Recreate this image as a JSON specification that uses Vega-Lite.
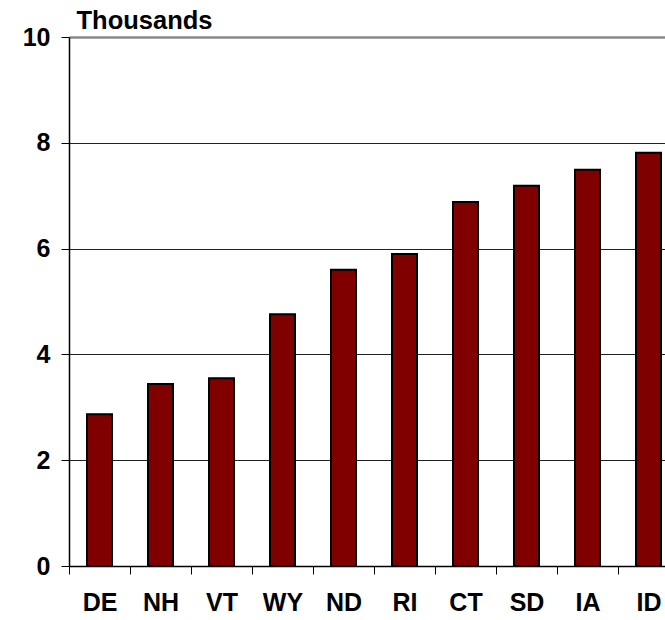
{
  "$schema": "https://vega.github.io/schema/vega-lite/v6.json",
  "autosize": {"type": "none"},
  "padding": {"left": 69, "top": 37, "right": 0, "bottom": 54},
  "width": 596,
  "height": 529,
  "background": "white",
  "config": {
    "view": {"stroke": null},
    "font": "Liberation Sans"
  },
  "data": {
    "values": [
      {"state": "DE", "value": 2.87},
      {"state": "NH", "value": 3.44},
      {"state": "VT", "value": 3.55},
      {"state": "WY", "value": 4.76},
      {"state": "ND", "value": 5.60},
      {"state": "RI", "value": 5.90},
      {"state": "CT", "value": 6.88},
      {"state": "SD", "value": 7.19},
      {"state": "IA", "value": 7.49},
      {"state": "ID", "value": 7.81}
    ]
  },
  "mark": {"type": "bar", "fill": "#800000", "stroke": "black", "strokeWidth": 2, "width": {"band": 0.41}},
  "encoding": {
    "x": {
      "field": "state",
      "type": "nominal",
      "sort": null,
      "scale": {"range": [0, 610], "paddingInner": 0, "paddingOuter": 0},
      "axis": {
        "title": null,
        "labelAngle": 0,
        "labelFont": "Liberation Sans",
        "labelFontSize": 25,
        "labelFontWeight": "bold",
        "labelColor": "black",
        "labelPadding": 16,
        "tickBand": "extent",
        "tickColor": "black",
        "tickSize": 8,
        "tickWidth": 1,
        "domainColor": "black",
        "domainWidth": 1.5,
        "grid": false
      }
    },
    "y": {
      "field": "value",
      "type": "quantitative",
      "scale": {"domain": [0, 10], "nice": false},
      "axis": {
        "title": "Thousands",
        "titleAngle": 0,
        "titleAlign": "left",
        "titleBaseline": "alphabetic",
        "titleAnchor": null,
        "titleX": 7,
        "titleY": -9,
        "titleFont": "Liberation Sans",
        "titleFontSize": 25.5,
        "titleFontWeight": "bold",
        "titleColor": "black",
        "values": [0, 2, 4, 6, 8, 10],
        "labelFont": "Liberation Sans",
        "labelFontSize": 25,
        "labelFontWeight": "bold",
        "labelColor": "black",
        "labelPadding": 11,
        "tickColor": "black",
        "tickSize": 8,
        "tickWidth": 1,
        "domainColor": "black",
        "domainWidth": 1.5,
        "grid": true,
        "gridColor": {"condition": {"test": "datum.value === 10", "value": "#888888"}, "value": "#222222"},
        "gridWidth": {"condition": {"test": "datum.value === 10", "value": 2.5}, "value": 1},
        "gridOpacity": 1
      }
    }
  }
}
